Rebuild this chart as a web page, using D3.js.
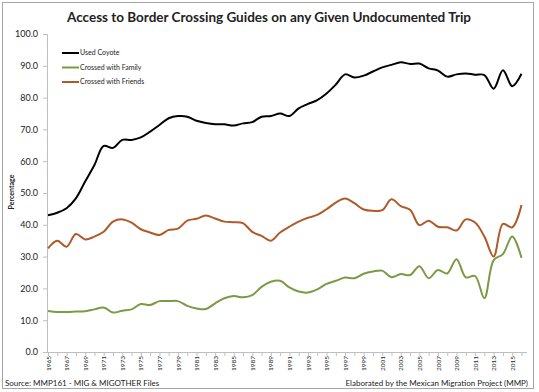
<!DOCTYPE html>
<html>
<head>
<meta charset="utf-8">
<script src="https://cdn.jsdelivr.net/npm/d3@7"></script>
<style>
  html, body { margin: 0; padding: 0; background: #fff; }
  svg { display: block; }
  text { font-family: Lato, "Open Sans", sans-serif; fill: #222; }
</style>
</head>
<body>
<svg id="chart" width="539" height="392"></svg>
<script>
const years = d3.range(1965, 2017);
const usedCoyote = [43.0, 43.8, 45.2, 48.3, 53.6, 58.8, 64.8, 64.2, 66.7, 66.7, 67.5, 69.3, 71.4, 73.5, 74.2, 74.0, 72.7, 72.0,
  71.6, 71.6, 71.2, 71.9, 72.3, 74.0, 74.2, 75.0, 74.2, 76.6, 78.0, 79.2, 81.3, 84.1, 87.3, 86.3, 86.9,
  88.2, 89.5, 90.3, 91.1, 90.6, 90.7, 89.2, 88.5, 86.6, 87.3, 87.6, 87.2, 87.1, 82.8, 88.6, 83.6, 87.5];
const crossedFamily = [12.9, 12.6, 12.6, 12.7, 12.8, 13.4, 14.0, 12.4, 13.0, 13.4, 15.1, 14.8, 16.0, 16.0, 16.0, 14.5, 13.7, 13.5,
  15.3, 16.9, 17.6, 17.2, 17.9, 20.5, 22.1, 22.4, 20.3, 19.0, 18.7, 19.7, 21.4, 22.4, 23.4, 23.2, 24.6,
  25.3, 25.6, 23.5, 24.5, 24.2, 27.0, 23.2, 25.8, 24.7, 29.2, 23.5, 23.9, 16.9, 28.9, 30.8, 36.3, 29.6];
const crossedFriends = [32.6, 35.0, 33.1, 37.1, 35.4, 36.3, 37.8, 41.0, 41.7, 40.7, 38.6, 37.6, 36.8, 38.4, 38.8, 41.3, 41.9, 42.9,
  42.0, 41.0, 40.8, 40.5, 37.8, 36.5, 35.0, 37.6, 39.4, 41.0, 42.2, 43.1, 44.9, 47.0, 48.3, 46.8, 44.8,
  44.4, 44.6, 48.0, 45.9, 44.7, 39.9, 41.3, 39.4, 39.2, 38.2, 41.7, 40.7, 36.3, 30.0, 40.3, 39.2, 46.2];
const yTicks = [0, 10, 20, 30, 40, 50, 60, 70, 80, 90, 100];
const seriesNames = ["Used Coyote", "Crossed with Family", "Crossed with Friends"];
const seriesColors = ["#000000", "#7a9a44", "#b05a2a"];
const titleText = "Access to Border Crossing Guides on any Given Undocumented Trip";
const yTitle = "Percentage";
const sourceText = "Source: MMP161 - MIG & MIGOTHER Files";
const creditText = "Elaborated by the Mexican Migration Project (MMP)";

const svg = d3.select("#chart");
const plotL = 47, plotR = 527, plotT = 34, plotB = 352;

// frame
svg.append("rect").attr("x", 2.5).attr("y", 2.5).attr("width", 531).attr("height", 386)
  .attr("fill", "#fff").attr("stroke", "#a6a6a6").attr("stroke-width", 1);

const x = d3.scaleLinear().domain([1965, 2016]).range([48, 521.5]);
const y = d3.scaleLinear().domain([0, 100]).range([plotB, plotT]);

// title
svg.append("text").attr("x", 269).attr("y", 22).attr("text-anchor", "middle")
  .style("font-size", "13.5px").style("font-weight", "bold").text(titleText);

// y axis
const yAxis = svg.append("g").attr("transform", `translate(${plotL},0)`)
  .call(d3.axisLeft(y).tickValues(yTicks).tickFormat(d3.format(".1f")).tickSize(4).tickPadding(5));
yAxis.select(".domain").attr("stroke", "#bfbfbf");
yAxis.selectAll(".tick line").attr("stroke", "#bfbfbf");
yAxis.selectAll(".tick text").style("font-size", "9px").style("font-family", "Lato, sans-serif").attr("fill", "#333");

// x axis
const xAxis = svg.append("g").attr("transform", `translate(0,${plotB})`)
  .call(d3.axisBottom(x).tickValues(years).tickFormat(d => (d % 2 === 1 ? String(d) : "")).tickSize(4).tickPadding(3));
xAxis.select(".domain").attr("stroke", "#bfbfbf").attr("d", `M${plotL},0.5H${plotR}`);
xAxis.selectAll(".tick line").attr("stroke", "#bfbfbf");
xAxis.selectAll(".tick text")
  .style("font-size", "6.5px").style("font-family", "Lato, sans-serif").attr("fill", "#333")
  .attr("text-anchor", "end").attr("dy", "0.32em")
  .attr("transform", "translate(0,4) rotate(-90)").attr("x", 0).attr("y", 0);

// y title
svg.append("text").attr("transform", `translate(14,192) rotate(-90)`).attr("text-anchor", "middle")
  .style("font-size", "7px").style("font-weight", "bold").text(yTitle);

// lines
const data = [usedCoyote, crossedFamily, crossedFriends];
const line = d3.line().x((d, i) => x(years[i])).y(d => y(d)).curve(d3.curveCatmullRom.alpha(0.5));
data.forEach((vals, k) => {
  svg.append("path").datum(vals).attr("d", line).attr("fill", "none")
    .attr("stroke", seriesColors[k]).attr("stroke-width", 2).attr("stroke-linejoin", "round");
});

// legend
const lg = svg.append("g");
seriesNames.forEach((n, k) => {
  const yy = 53 + k * 14.5;
  lg.append("line").attr("x1", 62).attr("x2", 79).attr("y1", yy).attr("y2", yy)
    .attr("stroke", seriesColors[k]).attr("stroke-width", 2);
  lg.append("text").attr("x", 80).attr("y", yy).attr("dy", "0.35em")
    .style("font-size", "7px").attr("fill", "#333").text(n);
});

// footer
svg.append("text").attr("x", 5).attr("y", 386).style("font-size", "8px").attr("fill", "#333").text(sourceText);
svg.append("text").attr("x", 528).attr("y", 386).attr("text-anchor", "end").style("font-size", "8px").attr("fill", "#333").text(creditText);
</script>
</body>
</html>
